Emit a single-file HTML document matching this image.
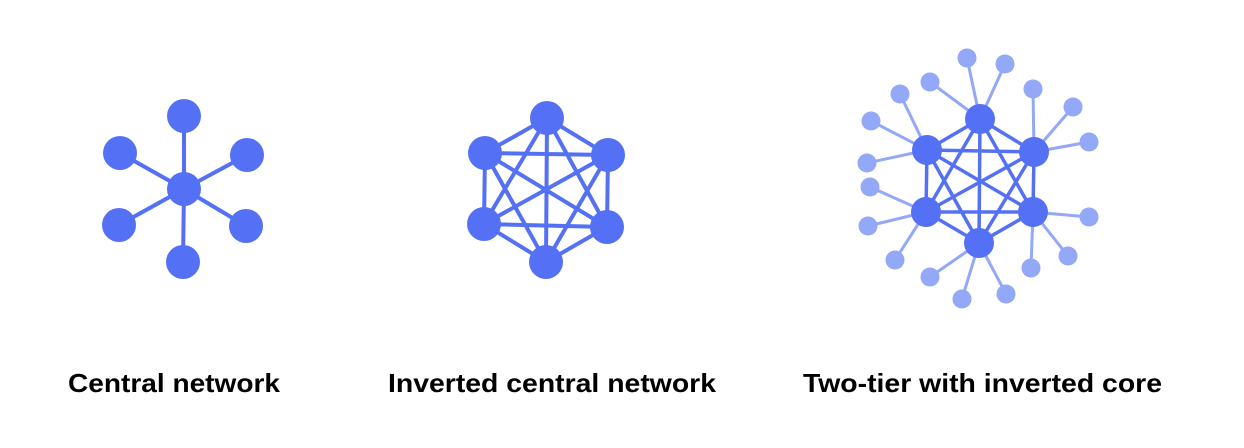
<!DOCTYPE html>
<html><head><style>html,body{margin:0;padding:0;background:#fff}svg{display:block}</style></head>
<body>
<svg width="1244" height="448" viewBox="0 0 1244 448" xmlns="http://www.w3.org/2000/svg">
<g stroke="#5470f5" stroke-width="4" fill="none">
<line x1="184" y1="189" x2="184" y2="116"/><line x1="184" y1="189" x2="120" y2="153"/>
<line x1="184" y1="189" x2="247" y2="155"/><line x1="184" y1="189" x2="119" y2="225"/>
<line x1="184" y1="189" x2="246" y2="226"/><line x1="184" y1="189" x2="183" y2="262"/>
</g>
<g fill="#5470f5">
<circle cx="184" cy="189" r="17"/><circle cx="184" cy="116" r="17"/><circle cx="120" cy="153" r="17"/>
<circle cx="247" cy="155" r="17"/><circle cx="119" cy="225" r="17"/><circle cx="246" cy="226" r="17"/>
<circle cx="183" cy="262" r="17"/>
</g>
<g stroke="#5470f5" stroke-width="4">
<path d="M547 118L485 153L484 224L546 262L607 227L608 155Z M547 118L484 224 M547 118L546 262 M547 118L607 227 M485 153L546 262 M485 153L607 227 M485 153L608 155 M484 224L608 155 M484 224L607 227 M546 262L608 155" fill="none"/>
</g>
<g fill="#5470f5">
<circle cx="547" cy="118" r="17"/><circle cx="485" cy="153" r="17"/><circle cx="608" cy="155" r="17"/>
<circle cx="484" cy="224" r="17"/><circle cx="607" cy="227" r="17"/><circle cx="546" cy="262" r="17"/>
</g>
<g stroke="#93a8f7" stroke-width="3">
<line x1="980" y1="119" x2="967" y2="58"/><line x1="980" y1="119" x2="1005" y2="64"/><line x1="980" y1="119" x2="930" y2="82"/>
<line x1="927" y1="150" x2="900" y2="94"/><line x1="927" y1="150" x2="871" y2="121"/><line x1="927" y1="150" x2="867" y2="163"/>
<line x1="926" y1="212" x2="870" y2="187"/><line x1="926" y1="212" x2="868" y2="226"/><line x1="926" y1="212" x2="895" y2="260"/>
<line x1="979" y1="243" x2="930" y2="277"/><line x1="979" y1="243" x2="962" y2="299"/><line x1="979" y1="243" x2="1006" y2="294"/>
<line x1="1033" y1="212" x2="1031" y2="268"/><line x1="1033" y1="212" x2="1068" y2="256"/><line x1="1033" y1="212" x2="1089" y2="217"/>
<line x1="1034" y1="152" x2="1089" y2="142"/><line x1="1034" y1="152" x2="1073" y2="107"/><line x1="1034" y1="152" x2="1033" y2="89"/>
</g>
<g fill="#93a8f7">
<circle cx="967" cy="58" r="9.5"/><circle cx="1005" cy="64" r="9.5"/><circle cx="930" cy="82" r="9.5"/>
<circle cx="900" cy="94" r="9.5"/><circle cx="871" cy="121" r="9.5"/><circle cx="867" cy="163" r="9.5"/>
<circle cx="870" cy="187" r="9.5"/><circle cx="868" cy="226" r="9.5"/><circle cx="895" cy="260" r="9.5"/>
<circle cx="930" cy="277" r="9.5"/><circle cx="962" cy="299" r="9.5"/><circle cx="1006" cy="294" r="9.5"/>
<circle cx="1031" cy="268" r="9.5"/><circle cx="1068" cy="256" r="9.5"/><circle cx="1089" cy="217" r="9.5"/>
<circle cx="1089" cy="142" r="9.5"/><circle cx="1073" cy="107" r="9.5"/><circle cx="1033" cy="89" r="9.5"/>
</g>
<g stroke="#5470f5" stroke-width="3.5">
<path d="M980 119L927 150L926 212L979 243L1033 212L1034 152Z M980 119L926 212 M980 119L979 243 M980 119L1033 212 M927 150L979 243 M927 150L1033 212 M927 150L1034 152 M926 212L1034 152 M926 212L1033 212 M979 243L1034 152" fill="none"/>
</g>
<g fill="#5470f5">
<circle cx="980" cy="119" r="15"/><circle cx="927" cy="150" r="15"/><circle cx="1034" cy="152" r="15"/>
<circle cx="926" cy="212" r="15"/><circle cx="1033" cy="212" r="15"/><circle cx="979" cy="243" r="15"/>
</g>
<g font-family="'Liberation Sans', sans-serif" font-weight="bold" font-size="26" fill="#000">
<text x="68" y="392" textLength="212" lengthAdjust="spacingAndGlyphs">Central network</text>
<text x="388" y="392" textLength="328" lengthAdjust="spacingAndGlyphs">Inverted central network</text>
<text x="803" y="392" textLength="359" lengthAdjust="spacingAndGlyphs">Two-tier with inverted core</text>
</g>
</svg>
</body></html>
